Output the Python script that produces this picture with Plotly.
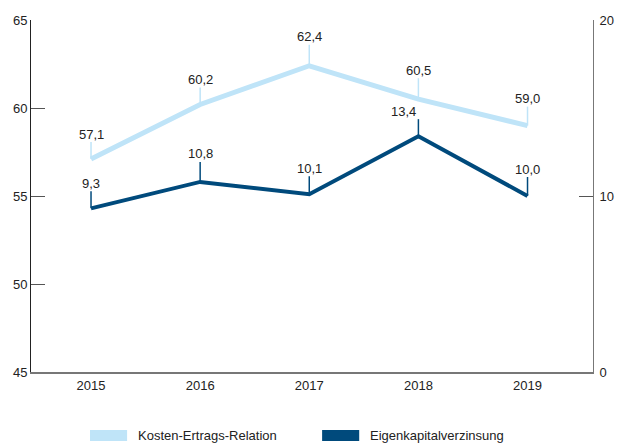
import plotly.graph_objects as go

years = ["2015", "2016", "2017", "2018", "2019"]
cost_income = [57.1, 60.2, 62.4, 60.5, 59.0]
roe = [9.3, 10.8, 10.1, 13.4, 10.0]
name_ci = "Kosten-Ertrags-Relation"
name_roe = "Eigenkapitalverzinsung"
left_ticks = [45, 50, 55, 60, 65]
right_ticks = [0, 10, 20]

# label offsets above each point (pixels) - styling only
off_ci = [25, 25, 29, 29, 27]
off_roe = [25, 28, 26, 25, 27]
xshift_roe = [0, 0, 0, -15, 0]

LIGHT = "#bfe4f8"
DARK = "#004a7c"
FONT = "Liberation Sans, Arial, sans-serif"

xs = list(range(len(years)))

def fmt(v):
    return f"{v:.1f}".replace(".", ",")

fig = go.Figure()
fig.add_trace(go.Scatter(x=xs, y=cost_income, mode="lines", name=name_ci,
                         line=dict(color=LIGHT, width=5), yaxis="y", showlegend=False,
                         hoverinfo="skip"))
fig.add_trace(go.Scatter(x=xs, y=roe, mode="lines", name=name_roe,
                         line=dict(color=DARK, width=4), yaxis="y2", showlegend=False,
                         hoverinfo="skip"))

shapes = []
annotations = []
for i, v in enumerate(cost_income):
    shapes.append(dict(type="line", xref="x", yref="y", ysizemode="pixel", yanchor=v,
                       x0=i, x1=i, y0=0, y1=off_ci[i] - 8, line=dict(color=LIGHT, width=1.5),
                       layer="below"))
    annotations.append(dict(x=i, y=v, xref="x", yref="y", text=fmt(v), showarrow=False,
                            yshift=off_ci[i], font=dict(family=FONT, size=13, color="#222")))
for i, v in enumerate(roe):
    shapes.append(dict(type="line", xref="x", yref="y2", ysizemode="pixel", yanchor=v,
                       x0=i, x1=i, y0=0, y1=off_roe[i] - 8, line=dict(color=DARK, width=1.5),
                       layer="below"))
    annotations.append(dict(x=i, y=v, xref="x", yref="y2", text=fmt(v), showarrow=False,
                            yshift=off_roe[i], xshift=xshift_roe[i],
                            font=dict(family=FONT, size=13, color="#222")))

# custom legend
legend_items = [(name_ci, LIGHT, 0.105), (name_roe, DARK, 0.518)]
for name, col, x0 in legend_items:
    shapes.append(dict(type="rect", xref="paper", yref="paper", x0=x0, x1=x0 + 0.066,
                       y0=-0.196, y1=-0.165, fillcolor=col, line=dict(width=0)))
    annotations.append(dict(x=x0 + 0.082, y=-0.181, xref="paper", yref="paper", text=name,
                            showarrow=False, xanchor="left", yanchor="middle",
                            font=dict(family=FONT, size=13, color="#222")))

fig.update_layout(
    width=617, height=446,
    margin=dict(l=31, r=24, t=20, b=74),
    paper_bgcolor="white", plot_bgcolor="white",
    font=dict(family=FONT, size=13, color="#222"),
    xaxis=dict(range=[-0.55, 4.6], tickvals=xs, ticktext=years, showgrid=False, zeroline=False,
               showline=True, linecolor="#777", linewidth=2, ticks="", fixedrange=True),
    yaxis=dict(range=[45, 65], tickvals=left_ticks, showgrid=False, zeroline=False,
               showline=True, linecolor="#222", linewidth=1, ticks="inside", ticklen=14,
               tickcolor="#555", tickwidth=1, automargin=False),
    yaxis2=dict(range=[0, 20], tickvals=right_ticks, overlaying="y", side="right",
                showgrid=False, zeroline=False, showline=True, linecolor="#777", linewidth=1,
                ticks="inside", ticklen=14, tickcolor="#555", tickwidth=1, automargin=False,
                ticklabelstandoff=3),
    shapes=shapes,
    annotations=annotations,
    showlegend=False,
    hovermode=False,
)

fig.write_html("out.html", config={"displayModeBar": False},
               post_script="document.body.style.margin='0';document.body.style.overflow='hidden';")
